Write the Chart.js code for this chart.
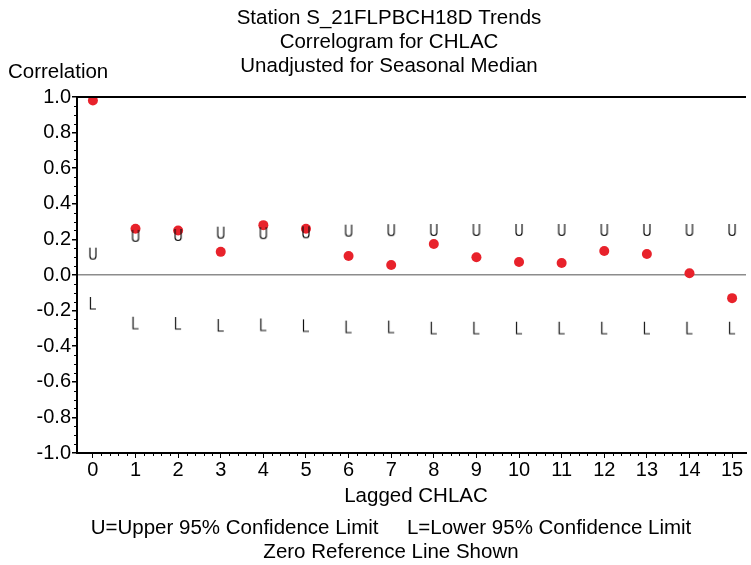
<!DOCTYPE html>
<html>
<head>
<meta charset="utf-8">
<script src="https://cdn.jsdelivr.net/npm/chart.js@4.4.0/dist/chart.umd.min.js"></script>
<style>
  html, body { margin: 0; padding: 0; background: #fff; }
  #wrap { width: 751px; height: 565px; }
</style>
</head>
<body>
<div id="wrap"><canvas id="acf" width="751" height="565"></canvas></div>
<script>
// lags and correlogram values
const lags = [0, 1, 2, 3, 4, 5, 6, 7, 8, 9, 10, 11, 12, 13, 14, 15];
const correlation = [0.98, 0.26, 0.25, 0.13, 0.28, 0.26, 0.107, 0.056, 0.174, 0.10, 0.073, 0.067, 0.135, 0.118, 0.01, -0.13];
const upperLimit = [0.12, 0.22, 0.225, 0.238, 0.235, 0.24, 0.249, 0.252, 0.253, 0.253, 0.253, 0.253, 0.253, 0.253, 0.253, 0.253];
const lowerLimit = [-0.157, -0.268, -0.27, -0.281, -0.278, -0.283, -0.29, -0.29, -0.296, -0.296, -0.296, -0.296, -0.296, -0.296, -0.296, -0.296];
const yTicks = [-1.0, -0.8, -0.6, -0.4, -0.2, 0.0, 0.2, 0.4, 0.6, 0.8, 1.0];

const titleLines = ['Station S_21FLPBCH18D Trends', 'Correlogram for CHLAC', 'Unadjusted for Seasonal Median'];
const footLines = ['U=Upper 95% Confidence Limit     L=Lower 95% Confidence Limit', 'Zero Reference Line Shown'];

const FONT = 'Liberation Sans, Arial, sans-serif';

// small canvas used as point marker for the U / L symbols
function letterMarker(letter) {
    const c = document.createElement('canvas');
    c.width = 10;
    c.height = 16;
    const g = c.getContext('2d');
    g.strokeStyle = '#111';
    g.lineWidth = 1.2;
    g.beginPath();
    if (letter === 'U') {
        g.moveTo(2, 2);
        g.lineTo(2, 10.5);
        g.arc(5, 10.5, 3, Math.PI, 0, true);
        g.lineTo(8, 2);
    } else {
        g.moveTo(2.5, 2);
        g.lineTo(2.5, 14);
        g.lineTo(8, 14);
    }
    g.stroke();
    return c;
}

const toPoints = vals => lags.map((lag, i) => ({ x: lag, y: vals[i] }));

// titles, footnotes, frame and minor ticks
const decorations = {
    id: 'decorations',
    afterDraw(chart) {
        const ctx = chart.ctx;
        const area = chart.chartArea;
        const xs = chart.scales.x;
        const ys = chart.scales.y;
        ctx.save();

        // minor ticks
        ctx.strokeStyle = '#000';
        ctx.lineWidth = 1;
        ctx.beginPath();
        for (let v = 0; v <= 15.001; v += 0.2) {
            if (Math.abs(v - Math.round(v)) < 1e-6) continue;
            const px = Math.round(xs.getPixelForValue(v)) + 0.5;
            ctx.moveTo(px, area.bottom);
            ctx.lineTo(px, area.bottom + 3);
        }
        for (let v = -1; v <= 1.001; v += 0.05) {
            if (Math.abs(v * 5 - Math.round(v * 5)) < 1e-6) continue;
            const py = Math.round(ys.getPixelForValue(v)) + 0.5;
            ctx.moveTo(area.left, py);
            ctx.lineTo(area.left - 3, py);
        }
        ctx.stroke();

        // frame
        ctx.lineWidth = 2;
        ctx.beginPath();
        ctx.moveTo(area.left, area.top);
        ctx.lineTo(area.right, area.top);
        ctx.stroke();

        // text
        ctx.fillStyle = '#000';
        ctx.font = '20.5px ' + FONT;
        ctx.textBaseline = 'middle';
        ctx.textAlign = 'center';
        titleLines.forEach((t, i) => ctx.fillText(t, 389, 18 + i * 24));
        ctx.fillText('Lagged CHLAC', 416, 496);
        footLines.forEach((t, i) => ctx.fillText(t, 391, 528 + i * 24));
        ctx.textAlign = 'left';
        ctx.fillText('Correlation', 8, 72);
        ctx.restore();
    }
};

new Chart(document.getElementById('acf'), {
    type: 'scatter',
    data: {
        datasets: [
            {
                label: 'Correlation',
                data: toPoints(correlation),
                backgroundColor: '#e8222b',
                borderColor: '#e8222b',
                pointRadius: 5,
                borderWidth: 0,
                order: 1
            },
            {
                label: 'Upper',
                data: toPoints(upperLimit),
                pointStyle: letterMarker('U'),
                order: 0
            },
            {
                label: 'Lower',
                data: toPoints(lowerLimit),
                pointStyle: letterMarker('L'),
                order: 0
            }
        ]
    },
    options: {
        responsive: false,
        animation: false,
        layout: { padding: { left: 0, right: 0, top: 97, bottom: 0 } },
        plugins: {
            legend: { display: false },
            tooltip: { enabled: false }
        },
        scales: {
            x: {
                type: 'linear',
                min: -0.373,
                max: 15.326,
                afterBuildTicks: scale => { scale.ticks = lags.map(v => ({ value: v })); },
                afterFit: scale => { scale.height = 112; },
                ticks: {
                    color: '#000',
                    font: { family: FONT, size: 20 },
                    padding: 0,
                    maxRotation: 0,
                    callback: v => String(v)
                },
                grid: {
                    drawOnChartArea: false,
                    tickLength: 5,
                    tickColor: '#000'
                },
                border: { display: true, color: '#000', width: 2 }
            },
            y: {
                min: -1,
                max: 1,
                afterBuildTicks: scale => { scale.ticks = yTicks.map(v => ({ value: v })); },
                afterFit: scale => { scale.width = 77; },
                ticks: {
                    color: '#000',
                    font: { family: FONT, size: 20 },
                    padding: 1,
                    callback: v => v.toFixed(1)
                },
                grid: {
                    color: c => (c.tick && Math.abs(c.tick.value) < 1e-9) ? '#8c8c8c' : 'rgba(0,0,0,0)',
                    lineWidth: 1.5,
                    tickLength: 5,
                    tickColor: '#000'
                },
                border: { display: true, color: '#000', width: 2 }
            }
        }
    },
    plugins: [decorations]
});
</script>
</body>
</html>
